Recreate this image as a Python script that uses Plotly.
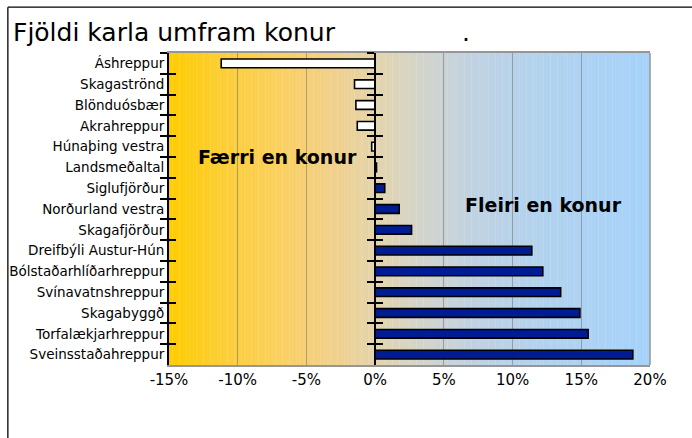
import plotly.graph_objects as go

categories = ["Áshreppur", "Skagaströnd", "Blönduósbær", "Akrahreppur", "Húnaþing vestra",
              "Landsmeðaltal", "Siglufjörður", "Norðurland vestra", "Skagafjörður",
              "Dreifbýli Austur-Hún", "Bólstaðarhlíðarhreppur", "Svínavatnshreppur",
              "Skagabyggð", "Torfalækjarhreppur", "Sveinsstaðahreppur"]
values = [-11.2, -1.5, -1.4, -1.3, -0.25, 0.1, 0.7, 1.75, 2.65, 11.4, 12.2, 13.5, 14.9, 15.5, 18.75]
tick_vals = [-15, -10, -5, 0, 5, 10, 15, 20]
tick_text = ["-15%", "-10%", "-5%", "0%", "5%", "10%", "15%", "20%"]

FONT = "DejaVu Sans"
x_min, x_max = -15, 20

bar_colors = ["white" if v < 0 else "rgb(0,28,148)" for v in values]

fig = go.Figure()
fig.add_trace(go.Bar(
    x=values, y=categories, orientation="h",
    marker=dict(color=bar_colors, line=dict(color="black", width=1.6)),
    width=0.42, hoverinfo="skip", showlegend=False,
))
for ax in ["y2", "y3", "y4"]:
    fig.add_trace(go.Scatter(x=values, y=categories, yaxis=ax, mode="markers",
                             marker=dict(opacity=0), hoverinfo="skip", showlegend=False))

# background gradient
stops = [(-15, (255, 204, 0)), (-11, (252, 206, 55)), (-7, (250, 208, 95)), (-3, (240, 208, 140)),
         (0, (228, 212, 172)), (3, (212, 212, 200)), (7, (192, 210, 225)), (12, (178, 210, 238)),
         (20, (165, 210, 250))]

def col_at(x):
    for (a, ca), (b, cb) in zip(stops[:-1], stops[1:]):
        if a <= x <= b:
            t = (x - a) / (b - a)
            return "rgb(%d,%d,%d)" % tuple(round(ca[i] + (cb[i] - ca[i]) * t) for i in range(3))
    return "rgb(%d,%d,%d)" % stops[-1][1]

shapes = []
step = 0.25
n = int((x_max - x_min) / step)
for i in range(n):
    x0 = x_min + i * step
    shapes.append(dict(type="rect", xref="x", yref="paper", x0=x0, x1=x0 + step + 0.02, y0=0, y1=1,
                       fillcolor=col_at(x0 + step / 2), line=dict(width=0), layer="below"))
# right plot border
shapes.append(dict(type="line", xref="paper", yref="paper", x0=1, x1=1, y0=0, y1=1,
                   line=dict(color="rgb(150,150,150)", width=1.5)))
# outer frame (top and left)
shapes.append(dict(type="line", xref="paper", yref="paper", x0=-0.335, x1=1.2, y0=1.147, y1=1.147,
                   line=dict(color="black", width=1.3)))
shapes.append(dict(type="line", xref="paper", yref="paper", x0=-0.335, x1=-0.335, y0=1.147, y1=-0.3,
                   line=dict(color="black", width=1.3)))

zero_pos = (0 - x_min) / (x_max - x_min)
yrange = [len(categories) - 0.5, -0.5]
common_y = dict(type="category", categoryorder="array", categoryarray=categories, range=yrange,
                showgrid=False, zeroline=False, tickson="boundaries", ticklen=7, tickwidth=1.5,
                tickcolor="black", fixedrange=True, automargin=False)

fig.update_layout(
    width=692, height=438,
    margin=dict(l=169, r=42, t=53, b=73),
    paper_bgcolor="white", plot_bgcolor="white",
    font=dict(family=FONT, color="black"),
    bargap=0.58,
    shapes=shapes,
    xaxis=dict(range=[x_min, x_max], tickvals=tick_vals, ticktext=tick_text,
               tickfont=dict(size=15, family=FONT), showgrid=True, gridcolor="rgba(90,90,90,0.45)",
               gridwidth=1, zeroline=False, showline=True, linecolor="rgb(150,150,150)",
               linewidth=1.5, mirror=True, ticks="", fixedrange=True, automargin=False),
    yaxis=dict(**common_y, ticks="outside", showline=True, linecolor="black", linewidth=2,
               tickfont=dict(size=13.5, family=FONT)),
    yaxis2=dict(**common_y, overlaying="y", side="left", ticks="inside", showticklabels=False,
                showline=False),
    yaxis3=dict(**common_y, overlaying="y", anchor="free", position=zero_pos, side="left",
                ticks="outside", showticklabels=False, showline=True, linecolor="black", linewidth=2),
    yaxis4=dict(**common_y, overlaying="y", anchor="free", position=zero_pos, side="left",
                ticks="inside", showticklabels=False, showline=False),
    annotations=[
        dict(text="Fjöldi karla umfram konur", xref="paper", yref="paper", x=-0.329, y=1.12,
             xanchor="left", yanchor="top", showarrow=False, font=dict(size=25, family=FONT)),
        dict(text=".", xref="paper", yref="paper", x=0.605, y=1.12,
             xanchor="left", yanchor="top", showarrow=False, font=dict(size=25, family=FONT)),
        dict(text="<b>Færri en konur</b>", xref="paper", yref="paper", x=0.2266, y=0.667,
             xanchor="center", yanchor="middle", showarrow=False, font=dict(size=19, family=FONT)),
        dict(text="<b>Fleiri en konur</b>", xref="paper", yref="paper", x=0.7796, y=0.513,
             xanchor="center", yanchor="middle", showarrow=False, font=dict(size=19, family=FONT)),
    ],
)

fig.write_html("out.html", config={"displayModeBar": False},
               post_script="document.body.style.margin='0';")
